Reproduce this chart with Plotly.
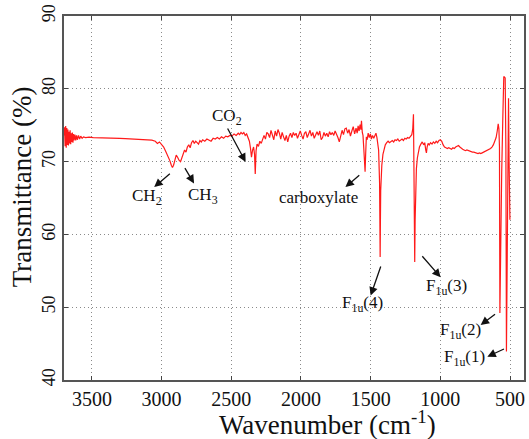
import plotly.graph_objects as go

# ---------------- data ----------------
wavenumber = [
    3700, 3696, 3692, 3688, 3684, 3680, 3676, 3672, 3668, 3664, 3660, 3656, 3652, 3648, 3644,
    3640, 3636, 3632, 3628, 3622, 3616, 3610, 3604, 3596, 3588, 3580, 3570, 3560, 3545, 3520,
    3490, 3460, 3420, 3380, 3340, 3300, 3260, 3220, 3180, 3140, 3100, 3070, 3045, 3030, 3015,
    3000, 2985, 2970, 2955, 2940, 2930, 2922, 2914, 2905, 2895, 2885, 2875, 2864, 2855, 2845,
    2835, 2825, 2815, 2805, 2795, 2785, 2775, 2765, 2755, 2745, 2735, 2725, 2715, 2705, 2690,
    2675, 2660, 2645, 2630, 2615, 2600, 2585, 2570, 2555, 2540, 2525, 2510, 2495, 2480, 2465,
    2450, 2440, 2430, 2420, 2410, 2400, 2390, 2380, 2370, 2362, 2355, 2348, 2340, 2333, 2328,
    2322, 2315, 2305, 2295, 2285, 2275, 2265, 2255, 2245, 2235, 2225, 2215, 2205, 2195, 2185,
    2175, 2165, 2155, 2145, 2135, 2125, 2115, 2105, 2095, 2085, 2075, 2065, 2055, 2045, 2035,
    2025, 2015, 2005, 1995, 1985, 1975, 1965, 1955, 1945, 1935, 1925, 1915, 1905, 1895, 1885,
    1875, 1865, 1855, 1845, 1835, 1825, 1815, 1805, 1795, 1785, 1775, 1765, 1755, 1745, 1735,
    1725, 1715, 1705, 1695, 1685, 1675, 1665, 1655, 1645, 1635, 1625, 1615, 1605, 1597, 1590,
    1583, 1576, 1570, 1566, 1560, 1555, 1550, 1545, 1540, 1536, 1531, 1525, 1518, 1510, 1502,
    1495, 1487, 1478, 1470, 1462, 1455, 1448, 1443, 1439, 1436, 1434, 1432, 1430, 1428, 1424,
    1420, 1412, 1405, 1395, 1385, 1375, 1365, 1355, 1345, 1335, 1325, 1315, 1305, 1295, 1285,
    1275, 1265, 1255, 1245, 1235, 1225, 1215, 1205, 1198, 1193, 1190, 1187, 1184, 1181, 1178,
    1172, 1165, 1158, 1150, 1140, 1130, 1120, 1112, 1105, 1100, 1095, 1088, 1080, 1070, 1060,
    1050, 1040, 1030, 1020, 1010, 1000, 990, 980, 970, 960, 950, 940, 930, 920, 910,
    900, 890, 880, 870, 860, 850, 840, 830, 820, 810, 800, 790, 780, 770, 760,
    750, 740, 730, 720, 710, 700, 690, 680, 670, 660, 650, 640, 630, 620, 610,
    600, 592, 585, 580, 576, 573, 570, 566, 560, 552, 545, 535, 530, 526, 522,
    517, 511, 507, 504, 501,
]
transmittance = [
    73.6, 74.7, 72.1, 74.9, 71.9, 74.6, 72.3, 74.4, 72.2, 74.1, 72.5, 74.3, 72.4, 73.9, 72.7,
    74.0, 72.6, 73.8, 72.9, 73.7, 72.9, 73.6, 73.0, 73.6, 73.1, 73.5, 73.2, 73.4, 73.3, 73.35,
    73.3, 73.3, 73.25, 73.3, 73.2, 73.2, 73.15, 73.1, 73.1, 73.05, 73.0, 72.95, 72.8, 72.5, 72.7,
    72.4, 72.0, 71.4, 70.8, 70.1, 69.5, 69.2, 69.5, 70.3, 70.9, 70.6, 70.2, 70.0, 70.5, 71.1,
    71.6, 71.3, 72.0, 72.3, 71.9, 72.6, 72.9, 72.5, 72.8, 72.6, 72.4, 72.9, 72.7, 73.0, 72.8,
    73.1, 73.0, 72.8, 73.2, 73.1, 73.3, 73.1, 73.4, 73.2, 73.5, 73.4, 73.6, 73.5, 73.8, 73.6,
    73.9, 73.7, 74.0, 73.8, 74.0, 73.6, 73.8, 73.4, 72.8, 71.8, 70.6, 71.5, 72.0, 71.0, 68.3,
    71.5, 72.4, 72.1, 72.8, 72.5, 73.2, 73.6, 73.1, 74.0, 73.8, 73.3, 74.3, 73.6, 73.0, 74.2,
    73.5, 74.4, 73.9, 73.1, 74.0, 73.4, 72.9, 73.6, 72.7, 73.5, 73.9, 73.3, 74.0, 73.6, 73.9,
    73.2, 73.8, 74.2, 73.6, 73.1, 73.9, 74.1, 73.3, 73.8, 74.3, 73.5, 74.0, 73.2, 73.8, 74.1,
    73.6, 74.2, 73.0, 73.3, 74.0, 73.5, 73.9, 73.4, 74.1, 73.7, 74.0, 73.6, 74.2, 73.8, 73.3,
    72.7, 73.4, 74.3, 73.7, 74.5, 74.6, 73.9, 74.4, 73.5, 74.2, 74.8, 73.8, 74.6, 73.9, 74.9,
    74.2, 75.1, 74.4, 75.6, 74.0, 73.6, 72.0, 70.5, 68.6, 71.0, 73.4, 73.0, 73.9, 73.3, 73.8,
    73.1, 73.6, 73.2, 73.6, 73.9, 73.3, 72.6, 71.6, 69.0, 67.0, 62.0, 56.9, 62.0, 66.0, 68.6,
    69.5, 71.0, 71.6, 72.3, 72.6, 72.8, 72.6, 72.8, 72.9, 72.7, 73.0, 72.9, 73.1, 72.8, 73.0,
    73.1, 72.9, 73.2, 73.1, 73.3, 73.2, 73.4, 73.7, 74.5, 76.5, 70.0, 62.0, 56.2, 62.0, 66.5,
    69.0, 70.5, 71.5, 72.0, 72.4, 72.7, 72.3, 72.6, 71.6, 71.2, 72.0, 72.5, 72.3, 72.6, 72.4,
    72.7, 72.5, 72.8, 72.6, 72.9, 73.0, 72.8, 72.3, 72.0, 71.9, 71.8, 71.9, 71.8, 71.7, 71.9,
    71.8, 72.0, 72.1, 72.2, 72.0, 71.8, 71.7, 71.6, 71.5, 71.6, 71.5, 71.4, 71.4, 71.3, 71.3,
    71.2, 71.2, 71.1, 71.2, 71.1, 71.2, 71.3, 71.3, 71.4, 71.5, 71.6, 71.8, 72.0, 72.3, 72.8,
    73.3, 74.2, 75.2, 74.5, 72.0, 49.2, 56.0, 63.8, 68.5, 76.0, 81.7, 81.5, 72.0, 43.9, 58.0,
    70.2, 78.7, 70.0, 63.4, 62.0,
]

x_ticks = [3500, 3000, 2500, 2000, 1500, 1000, 500]
y_ticks = [40, 50, 60, 70, 80, 90]
x_range = [3700, 400]
y_range = [40, 90]

# annotation labels, text positions, arrow heads and arrow tails (data coords)
labels = ["CH<sub>2</sub>", "CH<sub>3</sub>", "CO<sub>2</sub>", "carboxylate",
          "F<sub>1u</sub>(4)", "F<sub>1u</sub>(3)", "F<sub>1u</sub>(2)", "F<sub>1u</sub>(1)"]
label_x = [3102, 2703, 2532, 1876, 1560, 955, 856, 827]
label_y = [65.1, 65.3, 76.1, 65.1, 50.4, 52.8, 46.7, 43.0]
head_x = [3053, 2767, 2397, 1681, 1500, 998, 711, 663]
head_y = [66.5, 67.0, 69.95, 66.5, 51.6, 54.1, 47.55, 43.2]
tail_x = [2930, 2839, 2532, 1571, 1424, 1139, 597, 533]
tail_y = [68.5, 69.3, 74.75, 68.3, 55.8, 57.2, 49.2, 44.35]

SERIF = "Liberation Serif, Times New Roman, serif"

fig = go.Figure()
fig.add_trace(go.Scatter(
    x=wavenumber, y=transmittance, mode="lines",
    line=dict(color="#ff1a1a", width=1.2), showlegend=False,
))

annotations = []
for hx, hy, tx, ty in zip(head_x, head_y, tail_x, tail_y):
    annotations.append(dict(
        x=hx, y=hy, ax=tx, ay=ty, xref="x", yref="y", axref="x", ayref="y",
        text="", showarrow=True, arrowhead=2, arrowsize=1.3, arrowwidth=1.3,
        arrowcolor="#111111", standoff=0, startstandoff=0,
    ))
for t, lx, ly in zip(labels, label_x, label_y):
    annotations.append(dict(
        x=lx, y=ly, xref="x", yref="y", text=t, showarrow=False,
        font=dict(family=SERIF, size=17, color="#111111"),
        xanchor="center", yanchor="middle",
    ))
# axis titles
annotations.append(dict(
    x=0.5736, y=-0.118, xref="paper", yref="paper", text="Wavenumber (cm<sup>-1</sup>)",
    showarrow=False, font=dict(family=SERIF, size=27, color="#111111"),
    xanchor="center", yanchor="middle",
))
annotations.append(dict(
    x=-0.0909, y=0.53, xref="paper", yref="paper", text="Transmittance (%)",
    showarrow=False, textangle=-90, font=dict(family=SERIF, size=27, color="#111111"),
    xanchor="center", yanchor="middle",
))

axis_common = dict(
    showline=True, linecolor="#555555", linewidth=1.5, mirror="allticks",
    ticks="inside", ticklen=4, tickwidth=1.3, tickcolor="#444444",
    showgrid=True, gridcolor="#8a8a8a", gridwidth=1, griddash="1px,3px",
    zeroline=False, tickfont=dict(family=SERIF, color="#111111"),
)

fig.update_xaxes(range=x_range, tickvals=x_ticks, **axis_common)
fig.update_xaxes(tickfont=dict(family=SERIF, size=20, color="#111111"))
fig.update_yaxes(range=y_range, tickvals=y_ticks, tickangle=-90, **axis_common)
fig.update_yaxes(tickfont=dict(family=SERIF, size=18, color="#111111"))

fig.update_layout(
    width=529, height=439,
    margin=dict(l=64, r=3, t=16, b=59),
    paper_bgcolor="white", plot_bgcolor="white",
    annotations=annotations,
)

fig.write_html(
    "out.html",
    config={"displayModeBar": False},
    post_script="document.body.style.margin='0';document.body.style.overflow='hidden';",
)
